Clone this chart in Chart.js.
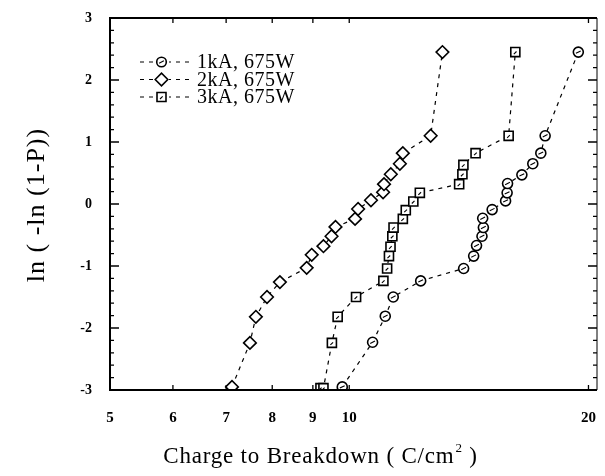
<!DOCTYPE html>
<html>
<head>
<meta charset="utf-8">
<script src="https://cdn.jsdelivr.net/npm/chart.js@4.4.0/dist/chart.umd.min.js"></script>
<style>
html,body{margin:0;padding:0;background:#fff;}
#wrap{width:605px;height:476px;position:relative;}
</style>
</head>
<body>
<div id="wrap"><canvas id="weibull"></canvas></div>
<script>
// tick values
const xTicks=[5,6,7,8,9,10,20];
const yTicks=[-3,-2,-1,0,1,2,3];

// 1kA, 675W  (circles)
const kA1X=[9.80,10.70,11.10,11.36,12.30,13.93,14.34,14.46,14.69,14.75,14.72,15.13,15.73,15.80,15.82,16.49,17.02,17.42,17.64,19.42];
const kA1Y=[-2.95,-2.23,-1.81,-1.50,-1.24,-1.04,-0.84,-0.67,-0.52,-0.38,-0.23,-0.09,0.05,0.18,0.33,0.47,0.65,0.82,1.10,2.45];
// 2kA, 675W  (diamonds)
const kA2X=[7.12,7.50,7.63,7.88,8.18,8.84,8.97,9.28,9.50,9.61,10.17,10.26,10.65,11.03,11.06,11.28,11.58,11.68,12.66,13.10];
const kA2Y=[-2.95,-2.24,-1.82,-1.50,-1.26,-1.03,-0.82,-0.68,-0.52,-0.37,-0.24,-0.08,0.06,0.19,0.32,0.48,0.65,0.82,1.10,2.45];
// 3kA, 675W  (squares)
const kA3X=[9.20,9.28,9.51,9.67,10.20,11.04,11.16,11.22,11.27,11.33,11.37,11.68,11.78,12.04,12.27,13.75,13.88,13.92,14.42,15.87,16.18];
const kA3Y=[-2.97,-2.97,-2.24,-1.82,-1.50,-1.24,-1.04,-0.84,-0.69,-0.52,-0.38,-0.24,-0.10,0.04,0.18,0.32,0.48,0.63,0.82,1.10,2.45];

const labels=["1kA, 675W","2kA, 675W","3kA, 675W"];

const serif='"Liberation Serif","DejaVu Serif",serif';
const ink='#000';

function pts(xs,ys){return xs.map((x,i)=>({x:x,y:ys[i]}));}

const baseSet={
    borderColor:ink,
    borderWidth:1.2,
    borderDash:[4,5],
    backgroundColor:'#fff',
    pointBorderColor:ink,
    pointBackgroundColor:'#fff',
    pointBorderWidth:1.6,
    showLine:true,
    tension:0
};

// little inner strokes of the circle and square markers
function innerMark(ctx,kind,x,y){
    ctx.beginPath();
    if(kind==='c'){ctx.moveTo(x-2.4,y+1.2);ctx.lineTo(x+2.4,y-1.2);}
    else{ctx.moveTo(x-1.5,y+2);ctx.lineTo(x+1.2,y-0.6);}
    ctx.stroke();
}
function drawMarker(ctx,i,x,y){
    ctx.fillStyle='#fff';ctx.strokeStyle=ink;ctx.lineWidth=1.6;
    ctx.beginPath();
    if(i===0){ctx.arc(x,y,4.8,0,Math.PI*2);}
    else if(i===1){ctx.moveTo(x-6.3,y);ctx.lineTo(x,y-6.3);ctx.lineTo(x+6.3,y);ctx.lineTo(x,y+6.3);ctx.closePath();}
    else{ctx.rect(x-4.5,y-4.5,9,9);}
    ctx.fill();ctx.stroke();
    ctx.lineWidth=1.1;
    if(i===0)innerMark(ctx,'c',x,y);
    if(i===2)innerMark(ctx,'s',x,y);
}

const marksPlugin={
    id:'marks',
    afterDatasetsDraw(chart){
        const ctx=chart.ctx;
        ctx.save();
        ctx.strokeStyle=ink;ctx.lineWidth=1.1;
        [[0,'c'],[2,'s']].forEach(([i,k])=>{
            chart.getDatasetMeta(i).data.forEach(p=>innerMark(ctx,k,p.x,p.y));
        });
        ctx.restore();
    }
};

// frame with inward ticks, legend and axis titles
const framePlugin={
    id:'frame',
    afterDraw(chart){
        const ctx=chart.ctx, a=chart.chartArea;
        const xs=chart.scales.x, ys=chart.scales.y;
        ctx.save();
        ctx.strokeStyle=ink;
        ctx.lineWidth=2;
        ctx.beginPath();
        ctx.moveTo(a.right,a.top);ctx.lineTo(a.left,a.top);ctx.lineTo(a.left,a.bottom);ctx.lineTo(a.right,a.bottom);
        ctx.stroke();
        ctx.lineWidth=1;
        ctx.beginPath();ctx.moveTo(a.right,a.top);ctx.lineTo(a.right,a.bottom);ctx.stroke();
        // x ticks top and bottom
        ctx.lineWidth=1.3;
        xTicks.forEach(v=>{
            const px=xs.getPixelForValue(v);
            ctx.beginPath();
            ctx.moveTo(px,a.bottom);ctx.lineTo(px,a.bottom-5);
            ctx.moveTo(px,a.top);ctx.lineTo(px,a.top+5);
            ctx.stroke();
        });
        // y ticks left and right, minor every 0.2
        for(let k=-15;k<=15;k++){
            const v=k/5, py=ys.getPixelForValue(v);
            const len=(k%5===0)?9:4;
            ctx.beginPath();
            ctx.moveTo(a.left,py);ctx.lineTo(a.left+len,py);
            ctx.moveTo(a.right,py);ctx.lineTo(a.right-len,py);
            ctx.stroke();
        }
        // legend
        ctx.font='20px '+serif;
        ctx.letterSpacing='0.5px';
        ctx.textBaseline='middle';
        labels.forEach((t,i)=>{
            const y=62+i*17.5;
            ctx.strokeStyle=ink;ctx.lineWidth=1.2;ctx.setLineDash([4,5]);
            ctx.beginPath();ctx.moveTo(140,y);ctx.lineTo(194,y);ctx.stroke();
            ctx.setLineDash([]);
            ctx.fillStyle='#fff';ctx.fillRect(154,y-7,15,14);
            drawMarker(ctx,i,161.5,y);
            ctx.fillStyle=ink;
            ctx.fillText(t,197,y+1);
        });
        // axis titles
        ctx.fillStyle=ink;
        ctx.letterSpacing='0.8px';
        ctx.textBaseline='alphabetic';
        const big='23px '+serif, small='13px '+serif;
        const main='Charge to Breakdown ( C/cm', tail=' )';
        ctx.font=big;
        const w1=ctx.measureText(main).width, w3=ctx.measureText(tail).width;
        ctx.font=small;
        const w2=ctx.measureText('2').width;
        let x0=320-(w1+w2+w3)/2;
        ctx.textAlign='left';
        ctx.font=big;ctx.fillText(main,x0,463);
        ctx.font=small;ctx.fillText('2',x0+w1+1,452);
        ctx.font=big;ctx.fillText(tail,x0+w1+w2+1,463);
        ctx.save();
        ctx.letterSpacing='1px';
        ctx.translate(44,205);
        ctx.rotate(-Math.PI/2);
        ctx.textAlign='center';
        ctx.font='26px '+serif;
        ctx.fillText('ln ( -ln (1-P))',0,0);
        ctx.restore();
        ctx.restore();
    }
};

new Chart(document.getElementById('weibull'),{
    type:'scatter',
    data:{
        datasets:[
            Object.assign({},baseSet,{label:labels[0],data:pts(kA1X,kA1Y),pointStyle:'circle',pointRadius:5}),
            Object.assign({},baseSet,{label:labels[1],data:pts(kA2X,kA2Y),pointStyle:'rectRot',pointRadius:6.3}),
            Object.assign({},baseSet,{label:labels[2],data:pts(kA3X,kA3Y),pointStyle:'rect',pointRadius:6.4})
        ]
    },
    options:{
        responsive:true,
        maintainAspectRatio:false,
        animation:false,
        layout:{padding:{top:18,right:3,left:0,bottom:0}},
        plugins:{legend:{display:false},tooltip:{enabled:false}},
        scales:{
            x:{
                type:'logarithmic',
                min:5,max:20.5,
                afterFit(s){s.height=86;s.paddingLeft=0;s.paddingRight=0;},
                afterBuildTicks(s){s.ticks=xTicks.map(v=>({value:v}));},
                grid:{display:false,drawTicks:false},
                border:{display:false},
                ticks:{
                    autoSkip:false,maxRotation:0,padding:19,color:ink,
                    font:{family:serif,size:15,weight:'bold'},
                    callback:v=>String(v)
                }
            },
            y:{
                min:-3,max:3,
                afterFit(s){s.width=110;s.paddingTop=0;s.paddingBottom=0;},
                afterBuildTicks(s){s.ticks=yTicks.map(v=>({value:v}));},
                grid:{display:false,drawTicks:false},
                border:{display:false},
                ticks:{
                    padding:18,color:ink,
                    font:{family:serif,size:14,weight:'bold'},
                    callback:v=>String(v)
                }
            }
        }
    },
    plugins:[marksPlugin,framePlugin]
});
</script>
</body>
</html>
